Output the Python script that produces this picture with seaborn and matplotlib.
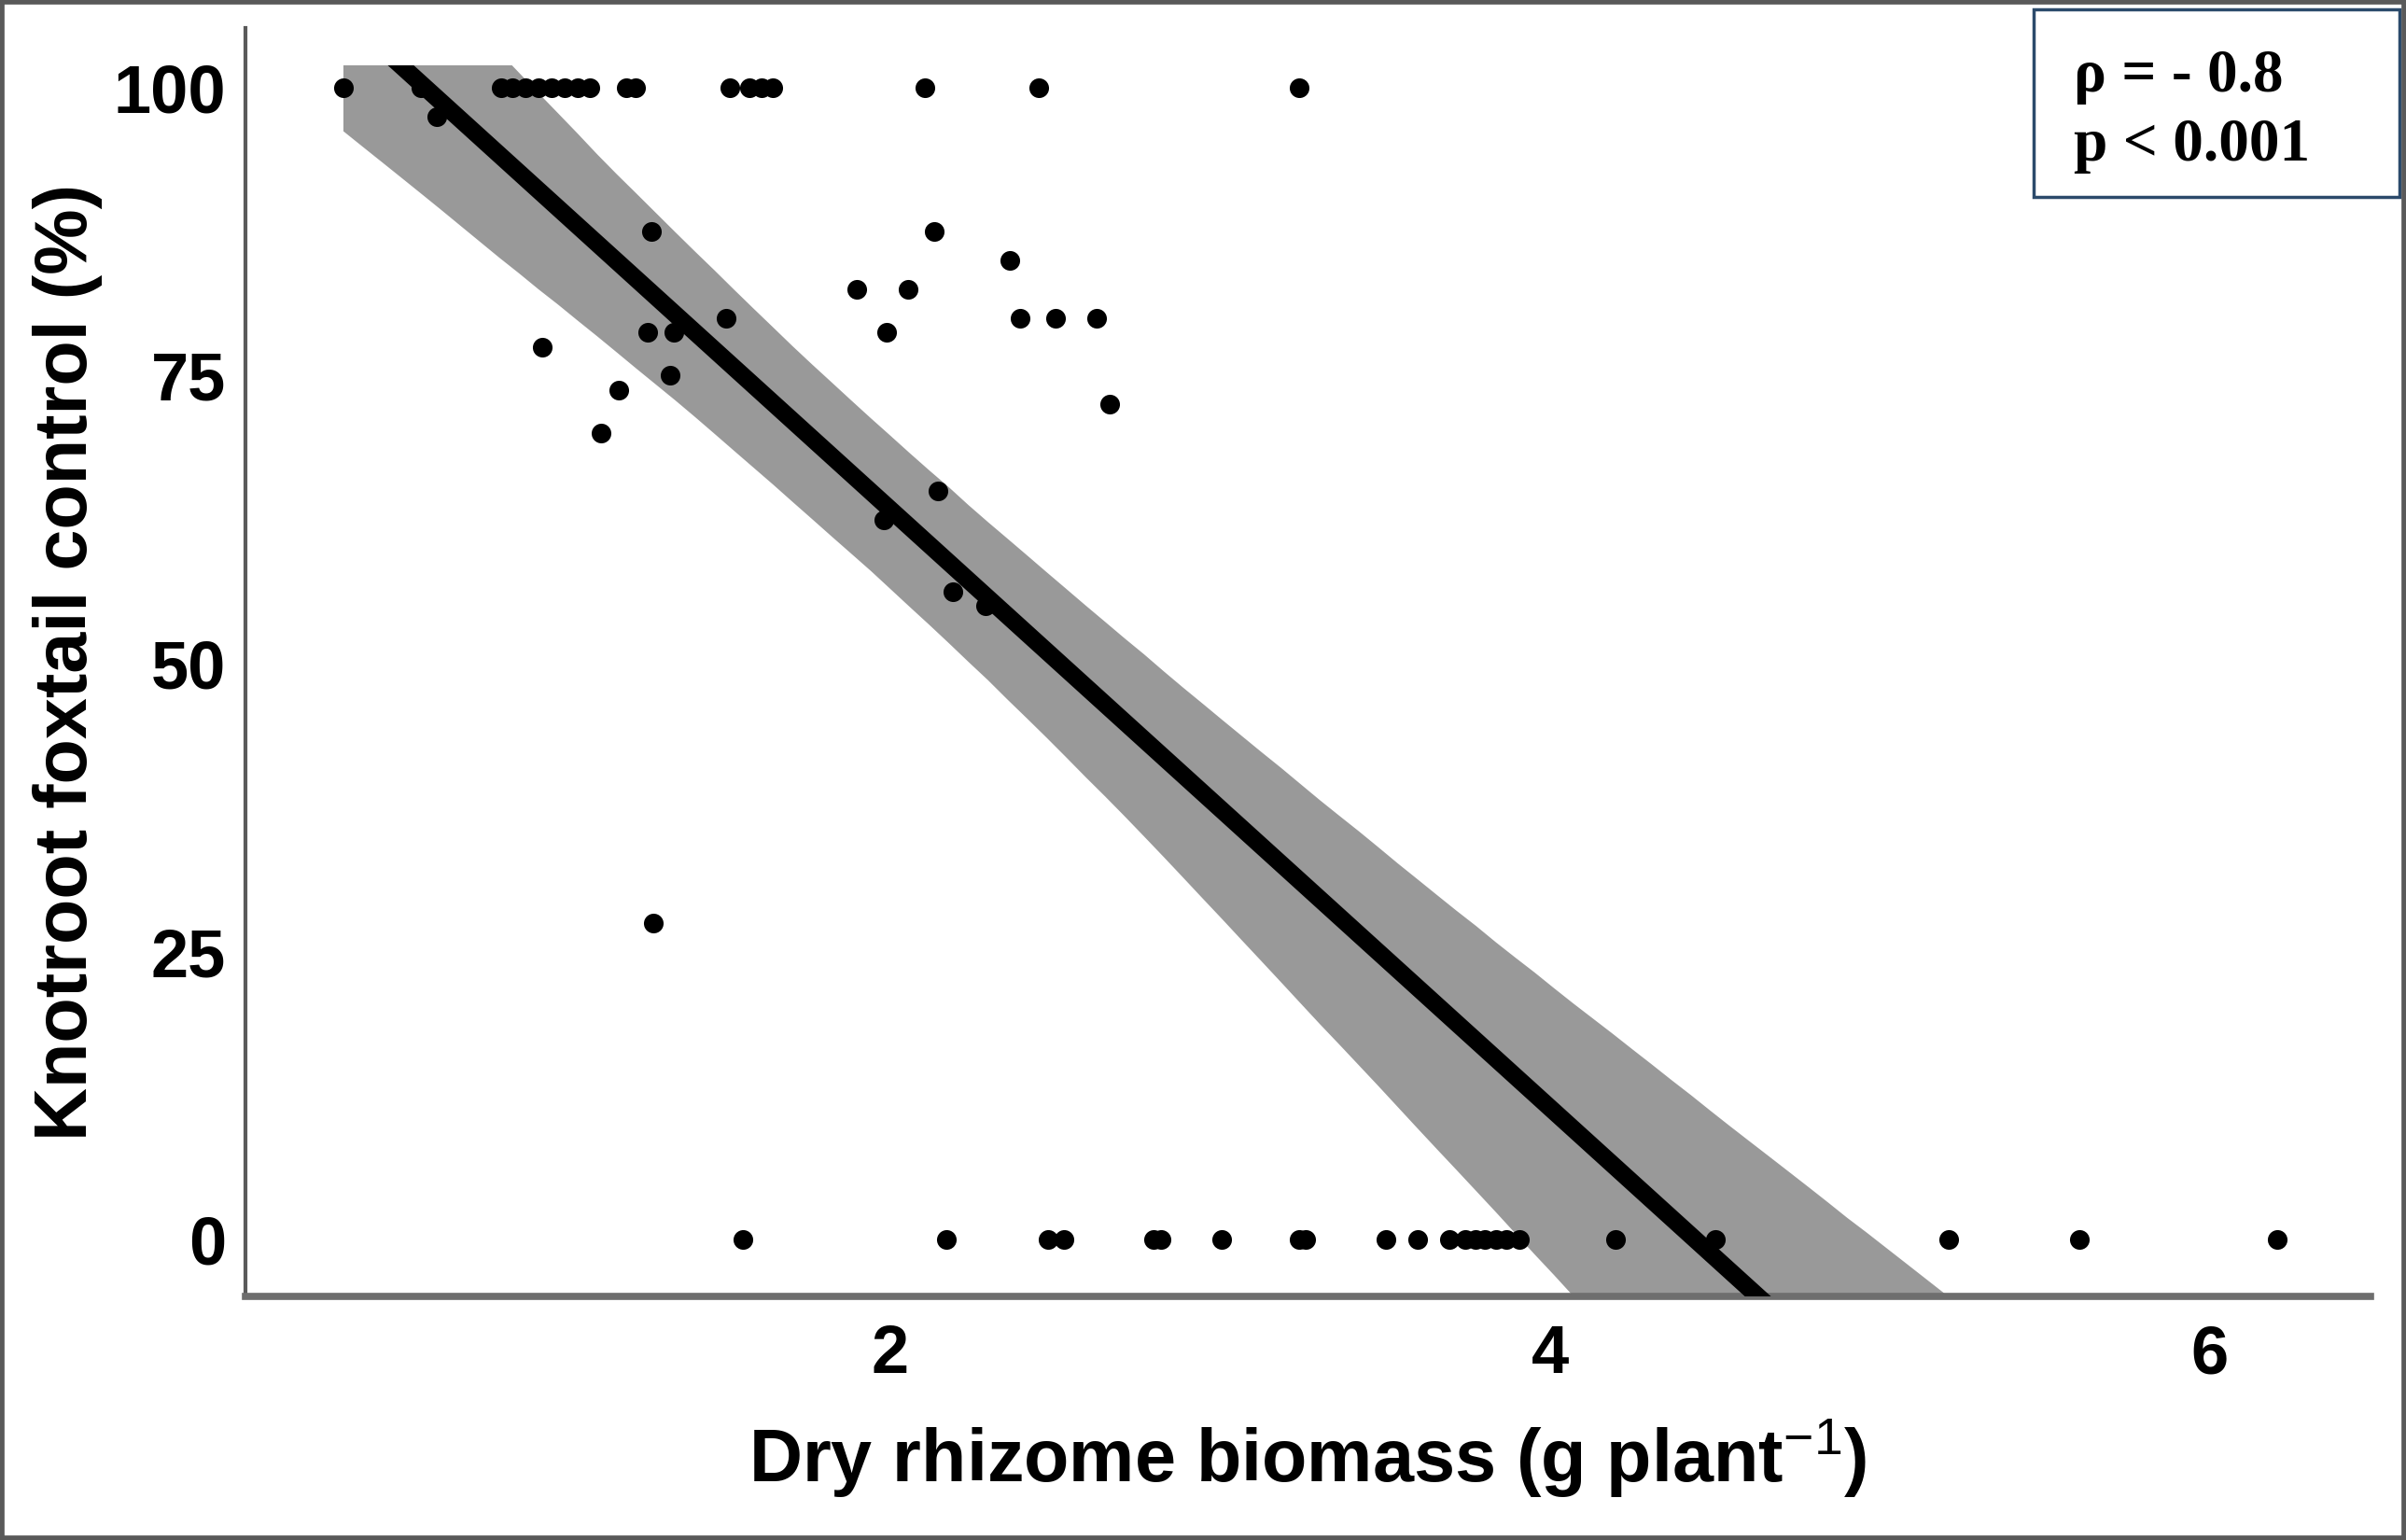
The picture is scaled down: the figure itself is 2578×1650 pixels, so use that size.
import matplotlib
matplotlib.use("Agg")
import matplotlib.pyplot as plt
import seaborn as sns
import numpy as np
import pandas as pd
from matplotlib.transforms import Bbox, TransformedBbox
from matplotlib.patches import Rectangle

# ---------------- data ----------------
x_full = [0.343, 0.577, 0.82, 0.855, 0.895, 0.935, 0.974, 1.014, 1.053, 1.09,
          1.20, 1.23, 1.514, 1.575, 1.61, 1.645, 2.105, 2.45, 3.24]
y_full = [100] * len(x_full)

x_mid = [0.627, 1.277, 2.135, 2.362, 1.90, 2.055, 1.503, 2.393, 2.503, 2.625,
         1.265, 1.345, 1.99, 0.945, 1.333, 1.179, 1.124, 2.665, 2.146, 1.98,
         2.19, 2.29, 1.283]
y_mid = [97.5, 87.5, 87.5, 85.0, 82.5, 82.5, 80.0, 80.0, 80.0, 80.0,
         78.75, 78.75, 78.75, 77.5, 75.0, 73.75, 70.0, 72.5, 65.0, 62.5,
         56.25, 55.0, 27.5]

x_zero = [1.553, 2.172, 2.479, 2.526, 2.80, 2.82, 3.005, 3.24, 3.26, 3.502,
          3.60, 3.697, 3.744, 3.776, 3.804, 3.837, 3.869, 3.907, 4.20, 4.502,
          5.209, 5.604, 6.204]
y_zero = [0] * len(x_zero)

x_ticks = [2, 4, 6]
y_ticks = [0, 25, 50, 75, 100]
x_title = r"Dry rhizome biomass (g plant$^{-1}$)"
y_title = "Knotroot foxtail control (%)"
stat_lines = ["ρ = - 0.8", "p < 0.001"]

df = pd.DataFrame({
    "biomass": x_full + x_mid + x_zero,
    "control": y_full + y_mid + y_zero,
})

# ---------------- style ----------------
sns.set_theme(style="white")
plt.rcParams["font.family"] = ["Liberation Sans", "DejaVu Sans"]
plt.rcParams["mathtext.fontset"] = "custom"
plt.rcParams["mathtext.rm"] = "Liberation Sans"
plt.rcParams["mathtext.default"] = "rm"

W, H = 2578, 1650
XLIM = (0.046, 6.488)
YLIM = (-4.91, 105.16)
fig = plt.figure(figsize=(W / 100, H / 100), dpi=100)
fig.patch.set_facecolor("white")
ax = fig.add_axes([263 / W, 1 - 1389 / H, (2540 - 263) / W, (1389 - 30) / H])

# regression with CI band
sns.regplot(data=df, x="biomass", y="control", ax=ax, scatter=False,
            ci=95, n_boot=10000, seed=7, color="black",
            line_kws=dict(lw=13.5, color="black", zorder=3, solid_capstyle="butt"))
band = ax.collections[-1]
band.set_facecolor("#999999")
band.set_edgecolor("none")
band.set_alpha(1)
band.set_zorder(1)
line = ax.lines[-1]

clipbb = TransformedBbox(Bbox([[XLIM[0], YLIM[0]], [XLIM[1], 101.9]]), ax.transData)
band.set_clip_box(clipbb)
line.set_clip_box(clipbb)

sns.scatterplot(data=df, x="biomass", y="control", ax=ax, color="black",
                s=230, linewidth=0, zorder=2)

ax.set_xlim(*XLIM)
ax.set_ylim(*YLIM)
ax.set_xticks(x_ticks)
ax.set_yticks(y_ticks)
ax.set_xticklabels([str(t) for t in x_ticks])
ax.set_yticklabels([str(t) for t in y_ticks])
ax.tick_params(axis="both", length=9, width=1.6, color="#333333",
               labelsize=52, labelcolor="black")
ax.tick_params(axis="x", pad=12)
ax.tick_params(axis="y", pad=6)
for lbl in ax.get_xticklabels() + ax.get_yticklabels():
    lbl.set_fontweight("bold")

for s in ["top", "right"]:
    ax.spines[s].set_visible(False)
ax.spines["left"].set_color("#5a5a5a")
ax.spines["left"].set_linewidth(3)
ax.spines["bottom"].set_color("#6e6e6e")
ax.spines["bottom"].set_linewidth(5.5)

ax.set_xlabel(x_title, fontsize=57, fontweight="bold", color="black")
ax.set_ylabel(y_title, fontsize=57, fontweight="bold", color="black")
ax.xaxis.set_label_coords(0.5, -0.095)
ax.yaxis.set_label_coords(-0.0672, 0.5)

# stats box
fig.patches.append(Rectangle((2179 / W, 1 - 211 / H), 392 / W, 201 / H,
                             transform=fig.transFigure, facecolor="white",
                             edgecolor="#2b4a6b", linewidth=2.5, zorder=5))
for i, txt in enumerate(stat_lines):
    fig.text(2222 / W, 1 - (98 + 74 * i) / H, txt, fontsize=47, fontweight="bold",
             family=["Liberation Serif", "DejaVu Serif"], va="baseline",
             ha="left", color="black", zorder=6)

# outer frame
fig.patches.append(Rectangle((0, 0), 1, 1, transform=fig.transFigure,
                             facecolor="none", edgecolor="#5a5a5a",
                             linewidth=7, zorder=10))

fig.savefig("out.png", dpi=100)
